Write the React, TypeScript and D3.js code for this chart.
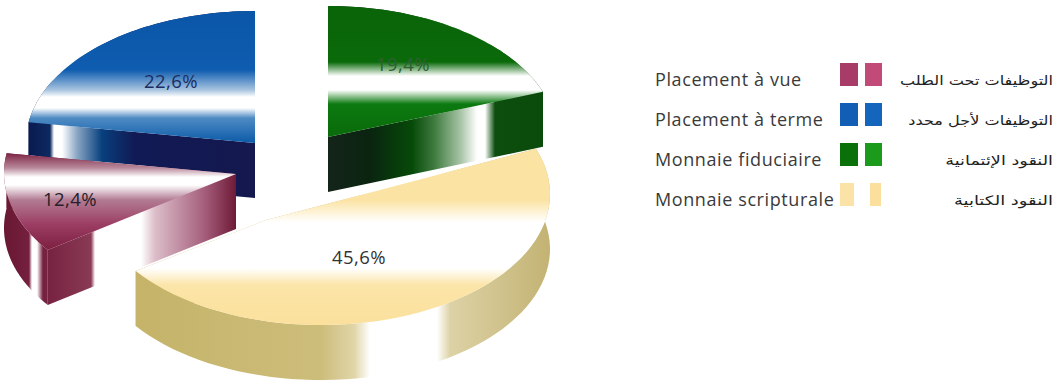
import React from "react";
import * as d3 from "d3";

const categories = ["Monnaie fiduciaire", "Monnaie scripturale", "Placement à vue", "Placement à terme"];
const values = [19.4, 45.6, 12.4, 22.6];
const valueLabels = ["19,4%", "45,6%", "12,4%", "22,6%"];
const legendFr = ["Placement à vue", "Placement à terme", "Monnaie fiduciaire", "Monnaie scripturale"];
const legendAr = ["التوظيفات تحت الطلب", "التوظيفات لأجل محدد", "النقود الإئتمانية", "النقود الكتابية"];
const legendArStretch = [1.24, 1.24, 1.36, 1.38];

const RX = 229, RY = 131, DEPTH = 55;
type Stop = [number, string];
const layouts: Record<string, any> = {
  "Monnaie fiduciaire": {
    c: [328, 137], apex: [328, 137], label: [403, 71], labelFill: "#2f5f35",
    top: [[6, "#0a6408"], [62, "#0a6a0a"], [76, "#ffffff"], [90, "#ffffff"], [104, "#0c7a10"], [137, "#0a6a0a"]],
    side: [[328, "#14241a"], [370, "#0a2410"], [412, "#064a08"], [434, "#3e7a3e"], [461, "#a9c5a8"], [477, "#ffffff"], [485, "#ffffff"], [495, "#0d4d0d"], [543, "#0a4a0a"]],
  },
  "Monnaie scripturale": {
    c: [321, 194], apex: [266, 220], label: [359, 264], labelFill: "#333333",
    top: [[150, "#fbe3a3"], [200, "#fbe3a3"], [222, "#ffffff"], [268, "#ffffff"], [285, "#fbe5a8"], [326, "#fbe09c"]],
    side: [[134, "#c4b368"], [321, "#cdbd7b"], [354, "#e0d5a8"], [370, "#ffffff"], [437, "#ffffff"], [450, "#ddd2a6"], [552, "#c2b272"]],
  },
  "Placement à vue": {
    c: [233, 173], apex: [236, 174], label: [70, 206], labelFill: "#26202a",
    top: [[153, "#7c2242"], [168, "#b98a9c"], [177, "#ffffff"], [185, "#ffffff"], [200, "#b27b92"], [225, "#9b3c62"], [250, "#7c1f40"]],
    side: [[7, "#6a1834"], [29, "#74203e"], [32, "#ffffff"], [37, "#ffffff"], [43, "#74203e"], [91, "#8a3a55"], [95, "#ffffff"], [141, "#ffffff"], [155, "#dcbdc8"], [204, "#a55f7c"], [236, "#6e1a36"]],
  },
  "Placement à terme": {
    c: [255, 142], apex: [255, 143], label: [171, 88], labelFill: "#1c2d63",
    top: [[9, "#0a55a8"], [70, "#0f5db0"], [90, "#a8c4e0"], [97, "#ffffff"], [108, "#ffffff"], [118, "#4f8bc4"], [143, "#0b5aa8"]],
    side: [[29, "#0a1a50"], [50, "#0c2a60"], [54, "#ffffff"], [62, "#ffffff"], [77, "#8aa6c4"], [102, "#08407e"], [134, "#111a55"], [255, "#14184e"]],
  },
};
const drawOrder = ["Placement à terme", "Monnaie fiduciaire", "Monnaie scripturale", "Placement à vue"];
const legendSwatches = [
  { a: ["#a83c68", 840, 18], b: ["#c24a78", 865, 17] },
  { a: ["#125eb4", 840, 18], b: ["#1466bc", 865, 17] },
  { a: ["#0a700a", 840, 18], b: ["#1c9a1c", 865, 17] },
  { a: ["#fbe2a6", 840, 14], b: ["#fbdf9c", 870, 11] },
];

const pie = d3.pie<number>().sort(null).startAngle(0).endAngle(2 * Math.PI);
const arcs = pie(values);
const line = d3.line<[number, number]>().curve(d3.curveLinear);

function arcPoints(c: number[], a0: number, a1: number, dy = 0): [number, number][] {
  return d3.range(0, 61).map((i) => {
    const t = a0 + ((a1 - a0) * i) / 60;
    return [c[0] + RX * Math.sin(t), c[1] + dy - RY * Math.cos(t)] as [number, number];
  });
}

const Grad = ({ id, stops, vertical }: { id: string; stops: Stop[]; vertical?: boolean }) => (
  <linearGradient
    id={id}
    gradientUnits="userSpaceOnUse"
    x1={vertical ? 0 : stops[0][0]}
    x2={vertical ? 0 : stops[stops.length - 1][0]}
    y1={vertical ? stops[0][0] : 0}
    y2={vertical ? stops[stops.length - 1][0] : 0}
  >
    {stops.map(([p, col], i) => (
      <stop key={i} offset={(p - stops[0][0]) / (stops[stops.length - 1][0] - stops[0][0])} stopColor={col} />
    ))}
  </linearGradient>
);

export default function App() {
  const slices = drawOrder.map((name) => {
    const i = categories.indexOf(name);
    return { name, i, arc: arcs[i], l: layouts[name] };
  });
  return (
    <svg width={1060} height={384} style={{ position: "absolute", left: 0, top: 0, background: "#fff" }}>
      <defs>
        {slices.map((s) => (
          <g key={s.i}>
            <Grad id={`top${s.i}`} stops={s.l.top} vertical />
            <Grad id={`side${s.i}`} stops={s.l.side} />
          </g>
        ))}
      </defs>
      {slices.map((s) => {
        const pts = arcPoints(s.l.c, s.arc.startAngle, s.arc.endAngle);
        const low = arcPoints(s.l.c, s.arc.startAngle, s.arc.endAngle, DEPTH);
        const apex = s.l.apex as [number, number];
        const apexLow: [number, number] = [apex[0], apex[1] + DEPTH];
        const face = line([apex, ...pts])! + "Z";
        const outer = line([...pts, ...low.slice().reverse()])! + "Z";
        const wallA = line([apex, pts[0], low[0], apexLow])! + "Z";
        const wallB = line([apex, pts[60], low[60], apexLow])! + "Z";
        return (
          <g key={s.i}>
            <path d={outer} fill={`url(#side${s.i})`} />
            <path d={wallA} fill={`url(#side${s.i})`} />
            <path d={wallB} fill={`url(#side${s.i})`} />
            <path d={face} fill={`url(#top${s.i})`} />
          </g>
        );
      })}
      {slices.map((s) => (
        <text
          key={s.i}
          x={s.l.label[0]}
          y={s.l.label[1]}
          textAnchor="middle"
          fontFamily="'Open Sans', sans-serif"
          fontSize={18.5}
          letterSpacing={0.4}
          fill={s.l.labelFill}
        >
          {valueLabels[s.i]}
        </text>
      ))}
      {legendFr.map((t, i) => {
        const y = d3.scaleLinear().domain([0, 3]).range([80, 200])(i);
        const sw = legendSwatches[i];
        return (
          <g key={t}>
            <text x={655} y={y + 6} fontFamily="'Open Sans', sans-serif" fontSize={18} letterSpacing={0.6} fill="#3a3a3a">
              {t}
            </text>
            <rect x={sw.a[1] as number} y={y - 17} width={sw.a[2] as number} height={23} fill={sw.a[0] as string} />
            <rect x={sw.b[1] as number} y={y - 17} width={sw.b[2] as number} height={23} fill={sw.b[0] as string} />
            <text
              transform={`translate(1053,${y + 5}) scale(${legendArStretch[i]},1)`}
              textAnchor="end"
              fontFamily="'DejaVu Sans', sans-serif"
              fontSize={13}
              fill="#222"
            >
              {legendAr[i]}
            </text>
          </g>
        );
      })}
    </svg>
  );
}
